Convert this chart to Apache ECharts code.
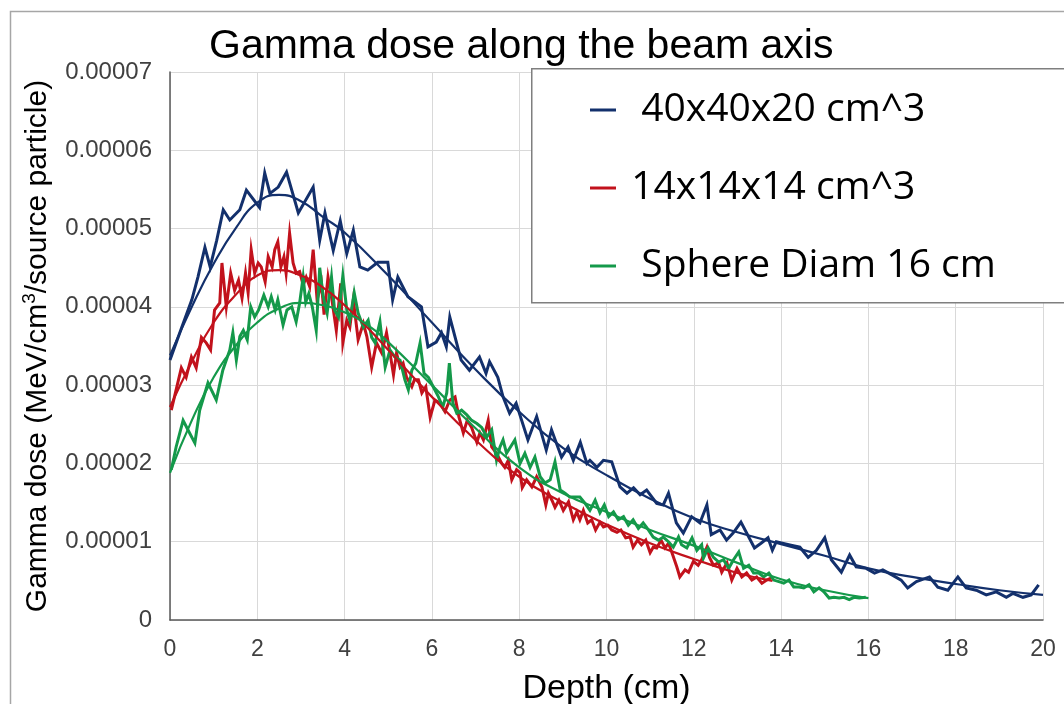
<!DOCTYPE html>
<html>
<head>
<meta charset="utf-8">
<script src="https://cdn.jsdelivr.net/npm/echarts@6/dist/echarts.min.js"></script>
<style>html,body{margin:0;padding:0;background:#fff;}#c{width:1064px;height:704px;}</style>
</head>
<body>
<div id="c"></div>
<script>
// Values in units of 1e-5 MeV/cm^3/source particle; pairs are [depth cm, dose]
const seriesNames = ['40x40x20 cm^3', '14x14x14 cm^3', 'Sphere Diam 16 cm'];
const xTicks = [0, 2, 4, 6, 8, 10, 12, 14, 16, 18, 20];
const yTickLabels = ['0', '0.00001', '0.00002', '0.00003', '0.00004', '0.00005', '0.00006', '0.00007'];

const blueNoisy = [[0,3.32],[0.27,3.74],[0.5,4.09],[0.64,4.38],[0.8,4.76],[0.92,4.51],[1.07,4.85],[1.22,5.24],[1.37,5.11],[1.6,5.24],[1.75,5.49],[2.05,5.27],[2.17,5.71],[2.29,5.45],[2.48,5.53],[2.67,5.72],[2.94,5.2],[3.28,5.53],[3.43,4.85],[3.55,5.2],[3.74,4.72],[3.9,5.1],[4.05,4.68],[4.2,4.98],[4.35,4.51],[4.53,4.47],[4.76,4.57],[4.99,4.57],[5.1,4.09],[5.22,4.38],[5.45,4.13],[5.76,4.0],[5.91,3.49],[6.1,3.55],[6.22,3.67],[6.33,3.49],[6.41,3.87],[6.67,3.32],[6.86,3.19],[7.09,3.36],[7.24,3.15],[7.32,3.3],[7.51,3.1],[7.63,2.85],[7.78,2.64],[7.93,2.77],[8.2,2.3],[8.4,2.6],[8.62,2.17],[8.74,2.43],[8.97,2.08],[9.12,2.21],[9.24,2.04],[9.4,2.27],[9.55,2.0],[9.62,2.04],[9.78,1.95],[9.93,2.04],[10.12,2.02],[10.31,1.7],[10.47,1.62],[10.62,1.69],[10.77,1.6],[10.92,1.66],[11.15,1.49],[11.3,1.47],[11.42,1.62],[11.6,1.24],[11.76,1.11],[11.95,1.32],[12.14,1.24],[12.3,1.47],[12.4,1.09],[12.6,1.15],[12.75,1.02],[12.9,1.11],[13.08,1.25],[13.39,0.92],[13.54,0.98],[13.7,1.05],[13.8,0.89],[13.89,1.0],[14.2,0.96],[14.43,0.93],[14.62,0.8],[14.81,0.89],[15.0,1.05],[15.15,0.77],[15.38,0.61],[15.57,0.83],[15.72,0.68],[15.95,0.66],[16.14,0.6],[16.33,0.64],[16.56,0.57],[16.75,0.51],[16.9,0.41],[17.1,0.49],[17.4,0.55],[17.59,0.42],[17.82,0.38],[18.05,0.55],[18.24,0.41],[18.47,0.38],[18.7,0.32],[18.93,0.36],[19.16,0.29],[19.31,0.34],[19.54,0.29],[19.73,0.32],[19.9,0.45]];

const redNoisy = [[0.03,2.68],[0.14,2.94],[0.26,3.22],[0.37,3.1],[0.49,3.36],[0.6,3.22],[0.72,3.61],[0.83,3.54],[0.93,3.45],[1.02,3.96],[1.14,4.05],[1.19,4.56],[1.29,4.0],[1.39,4.43],[1.48,4.21],[1.57,4.34],[1.65,4.11],[1.73,4.43],[1.79,4.18],[1.86,4.73],[1.94,4.43],[2.02,4.56],[2.09,4.51],[2.18,4.32],[2.25,4.64],[2.34,4.51],[2.4,4.73],[2.47,4.83],[2.54,4.51],[2.61,4.64],[2.66,4.43],[2.74,4.94],[2.82,4.56],[2.89,4.43],[2.97,4.45],[3.05,4.28],[3.12,4.38],[3.2,4.26],[3.28,4.73],[3.37,4.09],[3.47,4.3],[3.53,3.9],[3.62,4.38],[3.71,4.09],[3.81,3.7],[3.91,4.3],[3.96,3.54],[4.05,3.83],[4.12,3.74],[4.2,4.09],[4.31,3.58],[4.43,3.79],[4.51,3.62],[4.62,3.23],[4.73,3.54],[4.85,3.41],[4.96,3.67],[5.04,3.41],[5.12,3.13],[5.19,3.41],[5.27,3.23],[5.34,3.28],[5.42,3.1],[5.54,2.98],[5.6,3.07],[5.69,3.07],[5.77,2.9],[5.86,2.98],[5.96,2.59],[6.07,2.81],[6.18,2.77],[6.3,2.66],[6.41,2.81],[6.53,2.85],[6.62,2.59],[6.72,2.39],[6.81,2.55],[6.91,2.46],[7.03,2.27],[7.1,2.39],[7.18,2.3],[7.29,2.55],[7.37,2.21],[7.48,2.13],[7.6,2.0],[7.67,1.95],[7.75,2.04],[7.83,1.79],[7.94,1.92],[8.02,1.88],[8.07,1.69],[8.17,1.79],[8.29,1.7],[8.4,1.83],[8.52,1.7],[8.61,1.47],[8.67,1.62],[8.75,1.53],[8.82,1.44],[8.91,1.53],[9.01,1.4],[9.13,1.51],[9.24,1.28],[9.32,1.38],[9.39,1.28],[9.47,1.4],[9.57,1.24],[9.66,1.28],[9.75,1.15],[9.85,1.25],[9.93,1.19],[10.03,1.21],[10.12,1.15],[10.24,1.12],[10.33,1.15],[10.44,1.05],[10.54,1.06],[10.61,0.93],[10.71,1.02],[10.8,0.96],[10.9,1.02],[11.0,0.86],[11.07,0.93],[11.15,0.92],[11.25,1.02],[11.34,0.92],[11.42,0.98],[11.5,0.86],[11.61,0.68],[11.68,0.55],[11.8,0.64],[11.88,0.61],[11.99,0.75],[12.1,0.7],[12.18,0.77],[12.3,0.93],[12.36,0.8],[12.45,0.7],[12.57,0.73],[12.64,0.61],[12.76,0.73],[12.87,0.51],[12.99,0.66],[13.1,0.55],[13.21,0.6],[13.33,0.51],[13.44,0.55],[13.56,0.47],[13.67,0.51],[13.78,0.54]];

const greenNoisy = [[0.03,1.92],[0.14,2.21],[0.3,2.55],[0.41,2.43],[0.57,2.26],[0.68,2.68],[0.87,3.03],[1.06,2.81],[1.21,3.19],[1.37,3.45],[1.44,3.67],[1.52,3.32],[1.6,3.62],[1.68,3.7],[1.77,3.58],[1.85,4.0],[1.94,3.87],[2.03,3.96],[2.15,4.15],[2.25,4.0],[2.32,4.13],[2.41,3.96],[2.47,4.09],[2.59,3.77],[2.68,3.96],[2.79,4.0],[2.89,3.81],[2.97,4.05],[3.05,4.38],[3.11,4.06],[3.18,4.17],[3.26,4.0],[3.35,3.7],[3.43,4.5],[3.51,4.13],[3.6,3.92],[3.7,4.38],[3.77,3.96],[3.86,3.87],[3.96,4.4],[4.05,3.96],[4.12,3.83],[4.22,4.18],[4.31,3.92],[4.43,3.74],[4.54,3.83],[4.62,3.61],[4.7,3.54],[4.81,3.81],[4.93,3.23],[5.04,3.45],[5.15,3.36],[5.27,3.32],[5.38,3.07],[5.46,2.94],[5.54,3.19],[5.63,3.28],[5.73,3.54],[5.82,3.15],[5.92,3.1],[6.03,2.98],[6.15,2.85],[6.25,2.72],[6.34,2.9],[6.4,3.28],[6.48,2.77],[6.57,2.64],[6.68,2.68],[6.8,2.62],[6.91,2.55],[7.03,2.51],[7.14,2.46],[7.26,2.34],[7.37,2.43],[7.48,2.04],[7.56,2.21],[7.63,2.3],[7.71,2.13],[7.8,2.21],[7.9,2.3],[8.02,2.0],[8.13,2.13],[8.25,1.95],[8.36,2.08],[8.48,1.83],[8.59,1.75],[8.71,1.79],[8.82,2.02],[8.94,1.66],[9.05,1.62],[9.16,1.57],[9.28,1.57],[9.39,1.57],[9.51,1.49],[9.62,1.4],[9.74,1.53],[9.85,1.37],[9.95,1.47],[10.05,1.32],[10.16,1.38],[10.27,1.28],[10.39,1.32],[10.5,1.21],[10.61,1.28],[10.73,1.17],[10.84,1.24],[10.96,1.15],[11.07,1.06],[11.19,1.02],[11.3,1.06],[11.42,1.0],[11.53,0.93],[11.65,1.06],[11.72,0.96],[11.84,0.92],[11.96,1.05],[12.07,0.89],[12.18,0.96],[12.22,0.79],[12.33,0.92],[12.45,0.8],[12.57,0.74],[12.68,0.77],[12.8,0.66],[12.91,0.77],[13.03,0.87],[13.14,0.66],[13.26,0.7],[13.37,0.6],[13.49,0.6],[13.6,0.55],[13.72,0.6],[13.83,0.51],[13.95,0.49],[14.06,0.47],[14.18,0.51],[14.29,0.42],[14.41,0.42],[14.52,0.41],[14.64,0.45],[14.75,0.36],[14.87,0.41],[14.98,0.36],[15.1,0.28],[15.21,0.29],[15.33,0.28],[15.44,0.29],[15.56,0.26],[15.67,0.29],[15.79,0.28],[15.94,0.29]];

const blueFit = [[0,3.38],[0.5,4.0],[1,4.55],[1.5,5.0],[2,5.33],[2.5,5.43],[3,5.35],[3.5,5.15],[4,4.95],[5,4.4],[6,3.8],[7,3.2],[8,2.66],[9,2.2],[10,1.85],[11,1.55],[12,1.3],[13,1.12],[14,0.97],[15,0.82],[16,0.66],[17,0.55],[18,0.46],[19,0.38],[20,0.32]];
const redFit = [[0,2.72],[0.5,3.3],[1,3.8],[1.5,4.15],[2,4.4],[2.5,4.47],[3,4.4],[3.5,4.25],[4,4.02],[4.5,3.75],[5,3.45],[6,2.85],[7,2.3],[8,1.83],[9,1.5],[10,1.22],[11,0.98],[12,0.78],[13,0.6],[13.8,0.5]];
const greenFit = [[0,1.88],[0.5,2.55],[1,3.1],[1.5,3.5],[2,3.8],[2.5,3.98],[3,4.05],[3.5,4.02],[4,3.93],[4.5,3.78],[5,3.55],[6,3.0],[7,2.45],[8,1.95],[9,1.62],[10,1.38],[11,1.15],[12,0.95],[13,0.73],[14,0.52],[15,0.38],[16,0.28]];

const colors = ['#13306c', '#c2121c', '#14994a'];
const toDose = arr => arr.map(p => [p[0], p[1] * 1e-5]);

const chart = echarts.init(document.getElementById('c'), null, {renderer: 'canvas'});
const noisy = [blueNoisy, redNoisy, greenNoisy];
const fits = [blueFit, redFit, greenFit];
const series = [];
noisy.forEach((d, i) => series.push({
  name: seriesNames[i], type: 'line', data: toDose(d), showSymbol: false, symbol: 'none',
  lineStyle: {width: 3, color: colors[i], join: 'miter'}, itemStyle: {color: colors[i]}, z: 2
}));
fits.forEach((d, i) => series.push({
  name: seriesNames[i] + ' fit', type: 'line', data: toDose(d), smooth: 0.5, showSymbol: false, symbol: 'none',
  lineStyle: {width: 2.2, color: colors[i]}, itemStyle: {color: colors[i]}, z: 3
}));

chart.setOption({
  animation: false,
  backgroundColor: '#fff',
  title: {
    text: 'Gamma dose along the beam axis', left: 204, top: 21,
    textStyle: {fontFamily: 'Liberation Sans', fontSize: 41, fontWeight: 'normal', color: '#000'}
  },
  graphic: [
    {type: 'rect', left: 8, top: 9, z: -1, silent: true, shape: {width: 1100, height: 800},
     style: {fill: 'none', stroke: '#a6a6a6', lineWidth: 1.5}},
    {type: 'rect', left: 531, top: 68, z: 3, silent: true, shape: {width: 560, height: 234},
     style: {fill: '#fff', stroke: '#7f7f7f', lineWidth: 1.5}}
  ],
  legend: {
    data: seriesNames, orient: 'vertical', left: 585, top: 81, z: 10,
    icon: 'rect', itemWidth: 26, itemHeight: 3, itemGap: 30,
    formatter: n => (n.startsWith('14') ? ' ' : '  ') + n,
    textStyle: {fontFamily: 'Open Sans', fontSize: 39, lineHeight: 48, color: '#000'}
  },
  grid: {left: 170, right: 21, top: 72, bottom: 84, containLabel: false, outerBoundsMode: 'none'},
  xAxis: {
    type: 'value', min: 0, max: 20, interval: 2,
    name: 'Depth (cm)', nameLocation: 'middle', nameGap: 52,
    nameTextStyle: {fontFamily: 'Liberation Sans', fontSize: 34, color: '#000'},
    axisLine: {show: true, lineStyle: {color: '#595959', width: 1.5}},
    axisTick: {show: false},
    axisLabel: {margin: 18, fontFamily: 'Liberation Sans', fontSize: 23, color: '#404040',
      formatter: v => xTicks.indexOf(v) >= 0 ? String(v) : ''},
    splitLine: {show: true, lineStyle: {color: '#d9d9d9', width: 1}}
  },
  yAxis: {
    type: 'value', min: 0, max: 0.00007, interval: 0.00001,
    name: 'Gamma dose (MeV/cm{sup|3}/source particle)', nameLocation: 'middle', nameGap: 111, nameRotate: 90,
    nameTextStyle: {fontFamily: 'Liberation Sans', fontSize: 30, color: '#000', lineHeight: 34,
      rich: {sup: {fontFamily: 'Liberation Sans', fontSize: 19, color: '#000', verticalAlign: 'top', lineHeight: 34, padding: [0, 0, 12, 0]}}},
    axisLine: {show: true, lineStyle: {color: '#595959', width: 1.5}},
    axisTick: {show: false},
    axisLabel: {margin: 18, fontFamily: 'Liberation Sans', fontSize: 24, color: '#404040',
      formatter: v => yTickLabels[Math.round(v / 0.00001)]},
    splitLine: {show: true, lineStyle: {color: '#d9d9d9', width: 1}}
  },
  series: series
});
</script>
</body>
</html>
